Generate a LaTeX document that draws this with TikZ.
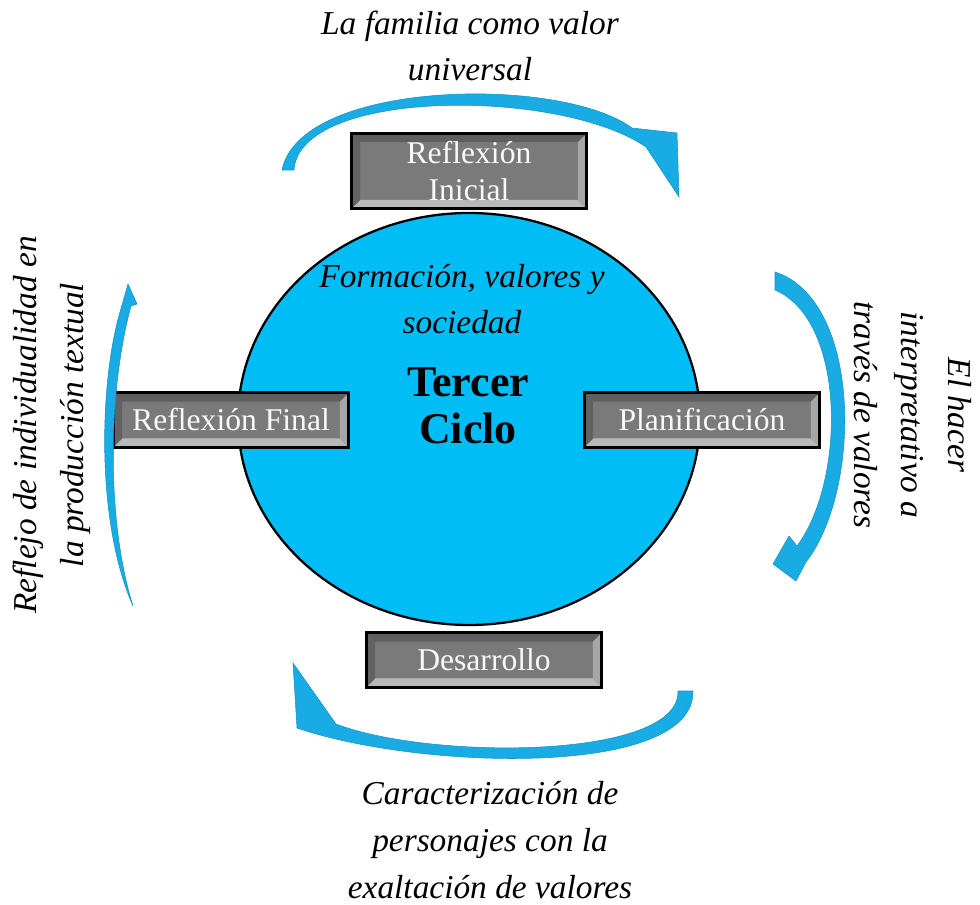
\documentclass[tikz,border=0pt]{standalone}
\usepackage{fontspec}
\setmainfont{Liberation Serif}
\usetikzlibrary{shapes.geometric}

\definecolor{cielo}{RGB}{0,190,245}
\definecolor{flecha}{RGB}{25,172,228}
\definecolor{gris}{RGB}{122,122,122}
\definecolor{biselclaro}{RGB}{185,185,185}
\definecolor{biseloscuro}{RGB}{95,95,95}

\tikzset{
  boton/.style={draw=black, line width=1.6pt, fill=gris, text=white!95!gray,
    font=\fontsize{18}{21}\selectfont, align=center, inner sep=0pt,
    minimum width=134pt, minimum height=31pt,
    path picture={
      \fill[biselclaro] (path picture bounding box.south west) -- (path picture bounding box.south east)
        -- ([shift={(-5pt,5pt)}]path picture bounding box.south east) -- ([shift={(5pt,5pt)}]path picture bounding box.south west) -- cycle;
      \fill[biselclaro!70!gris] (path picture bounding box.south east) -- (path picture bounding box.north east)
        -- ([shift={(-5pt,-5pt)}]path picture bounding box.north east) -- ([shift={(-5pt,5pt)}]path picture bounding box.south east) -- cycle;
      \fill[biseloscuro] (path picture bounding box.north west) -- (path picture bounding box.north east)
        -- ([shift={(-5pt,-5pt)}]path picture bounding box.north east) -- ([shift={(5pt,-5pt)}]path picture bounding box.north west) -- cycle;
      \fill[gris!80!black] (path picture bounding box.north west) -- (path picture bounding box.south west)
        -- ([shift={(5pt,5pt)}]path picture bounding box.south west) -- ([shift={(5pt,-5pt)}]path picture bounding box.north west) -- cycle;
    }},
  rotulo/.style={font=\fontsize{19}{26.6}\selectfont\itshape, align=center, inner sep=0pt},
  cinta/.style={fill=flecha, draw=flecha!85!black, line width=0.3pt}
}

\begin{document}
\begin{tikzpicture}[x=0.02cm, y=-0.02cm]

  \useasboundingbox (0,0) rectangle (980,905);

  % Elipse central
  \node[ellipse, draw=black, line width=1.3pt, fill=cielo, minimum width=462*0.02cm,
        minimum height=412*0.02cm, inner sep=0pt] (ciclo) at (469,419) {};

  % Textos dentro de la elipse
  \node[rotulo] (lema) at (462,299) {Formación, valores y\\sociedad};
  \node[font=\fontsize{25}{27}\selectfont\bfseries, align=center, inner sep=0pt] (tercer) at (468,406) {Tercer\\Ciclo};

  % Botones de las etapas
  \node[boton, minimum height=43pt] (inicial) at (469,171) {Reflexión\\Inicial};
  \node[boton] (final) at (231,420) {Reflexión Final};
  \node[boton] (plan) at (702,420) {Planificación};
  \node[boton] (desarrollo) at (484,660) {Desarrollo};

  % Flecha superior
  \fill[cinta] (282,170) .. controls (300,80) and (560,75) .. (632,128)
    -- (677,133) -- (679,197) -- (646,147)
    .. controls (560,88) and (300,88) .. (294,170) -- cycle;

  % Flecha derecha
  \fill[cinta] (775,272) .. controls (862,300) and (862,490) .. (806,562)
    -- (796,581) -- (773,564) -- (789,536) -- (797,546)
    .. controls (846,480) and (846,320) .. (775,290) -- cycle;

  % Flecha inferior
  \fill[cinta] (693,691) .. controls (695,778) and (420,770) .. (297,728)
    -- (293,663) -- (336,724)
    .. controls (430,760) and (680,760) .. (678,691) -- cycle;

  % Flecha izquierda
  \fill[cinta] (133,606) .. controls (95,520) and (100,380) .. (120,312)
    -- (128,284) -- (137,304) -- (131,306)
    .. controls (108,390) and (106,520) .. (133,606) -- cycle;

  % Rotulos de las flechas
  \node[rotulo] (familia) at (470,46) {La familia como valor\\universal};
  \node[rotulo, rotate=-90] (hacer) at (913,415) {El hacer\\interpretativo a\\través de valores};
  \node[rotulo] (personajes) at (490,840) {Caracterización de\\personajes con la\\exaltación de valores};
  \node[rotulo, rotate=90] (reflejo) at (52,425) {Reflejo de individualidad en\\la producción textual};

\end{tikzpicture}
\end{document}
